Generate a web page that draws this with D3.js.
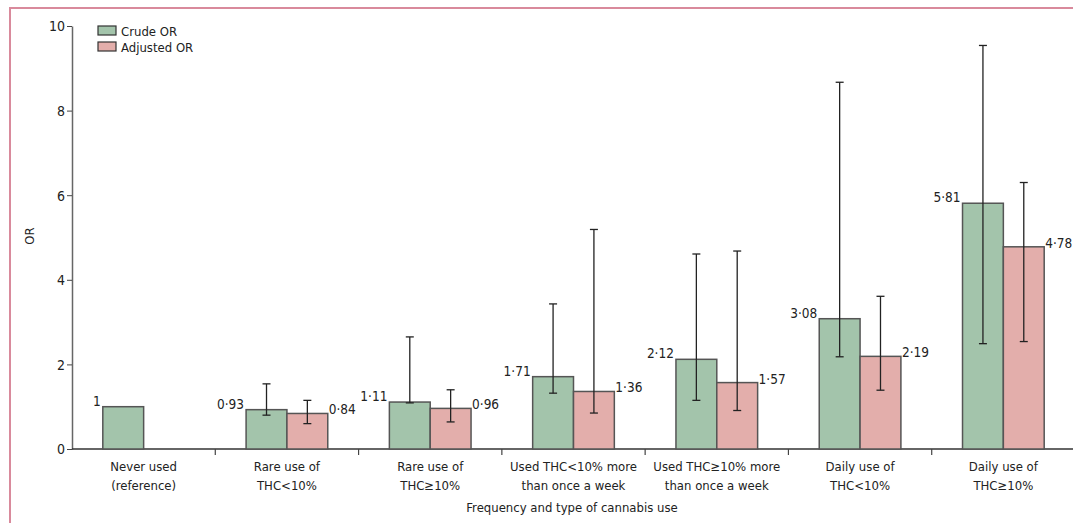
<!DOCTYPE html>
<html>
<head>
<meta charset="utf-8">
<script src="https://cdn.jsdelivr.net/npm/d3@7"></script>
<style>
  html, body { margin: 0; padding: 0; background: #fff; }
  svg { display: block; }
  text { font-family: "DejaVu Sans Condensed", "DejaVu Sans", sans-serif; fill: #222; }
</style>
</head>
<body>
<svg id="chart" width="1073" height="523"></svg>
<script>
// Odds ratios by frequency and type of cannabis use
const categories = [
  ["Never used", "(reference)"],
  ["Rare use of", "THC<10%"],
  ["Rare use of", "THC\u226510%"],
  ["Used THC<10% more", "than once a week"],
  ["Used THC\u226510% more", "than once a week"],
  ["Daily use of", "THC<10%"],
  ["Daily use of", "THC\u226510%"]
];
const crudeOR     = [1,    0.93, 1.11, 1.71, 2.12, 3.08, 5.81];
const crudeLow    = [null, 0.80, 1.09, 1.32, 1.15, 2.18, 2.49];
const crudeHigh   = [null, 1.54, 2.65, 3.43, 4.61, 8.67, 9.54];
const adjustedOR  = [null, 0.84, 0.96, 1.36, 1.57, 2.19, 4.78];
const adjustedLow = [null, 0.60, 0.64, 0.85, 0.91, 1.39, 2.54];
const adjustedHigh= [null, 1.15, 1.40, 5.19, 4.68, 3.61, 6.30];
const yTicks = [0, 2, 4, 6, 8, 10];
const seriesNames = ["Crude OR", "Adjusted OR"];

const colors = { crude: "#a3c4ab", adjusted: "#e3aeab", edge: "#555", frame: "#d98a9c" };
const fmt = v => String(v).replace(".", "\u00b7");

const svg = d3.select("#chart");

// frame
svg.append("path")
  .attr("d", "M10,523 V8 H1073")
  .attr("fill", "none")
  .attr("stroke", colors.frame)
  .attr("stroke-width", 2);

const x = d3.scaleBand().domain(d3.range(categories.length)).range([72, 1075]).padding(0);
const y = d3.scaleLinear().domain([0, 10]).range([449, 26]);
const barW = x.bandwidth() * 0.285;

// y axis
const yAxis = svg.append("g")
  .attr("transform", "translate(72,0)")
  .call(d3.axisLeft(y).tickValues(yTicks).tickSize(5).tickSizeOuter(0).tickFormat(d => d));
yAxis.attr("font-family", null).attr("font-size", null);
yAxis.select(".domain").attr("stroke", "#666").attr("stroke-width", 1.5);
yAxis.selectAll(".tick line").attr("stroke", "#444");
yAxis.selectAll(".tick text").attr("font-size", 14).attr("x", -7).attr("dy", "0.35em").attr("fill", "#222");

// x axis baseline with group boundary ticks
const xg = svg.append("g");
xg.append("line")
  .attr("x1", 72).attr("x2", 1073).attr("y1", y(0)).attr("y2", y(0))
  .attr("stroke", "#333").attr("stroke-width", 1.5);
xg.selectAll("line.tk")
  .data(d3.range(1, categories.length))
  .join("line")
  .attr("class", "tk")
  .attr("x1", i => x(i)).attr("x2", i => x(i))
  .attr("y1", y(0)).attr("y2", y(0) + 6)
  .attr("stroke", "#444").attr("stroke-width", 1.2);

// category labels
const catLab = svg.append("g").selectAll("text")
  .data(categories)
  .join("text")
  .attr("text-anchor", "middle")
  .attr("font-size", 13)
  .attr("x", (d, i) => x(i) + x.bandwidth() / 2)
  .attr("y", 471);
catLab.selectAll("tspan")
  .data(d => d)
  .join("tspan")
  .attr("x", function() { return this.parentNode.getAttribute("x"); })
  .attr("dy", (d, j) => j === 0 ? 0 : 18.5)
  .text(d => d);

// axis titles
svg.append("text")
  .attr("x", 572).attr("y", 512)
  .attr("text-anchor", "middle").attr("font-size", 13)
  .text("Frequency and type of cannabis use");
svg.append("text")
  .attr("transform", "translate(34,236) rotate(-90)")
  .attr("text-anchor", "middle").attr("font-size", 13)
  .text("OR");

const center = i => x(i) + x.bandwidth() / 2;

// bars
const bars = svg.append("g");
crudeOR.forEach((v, i) => {
  bars.append("rect")
    .attr("x", center(i) - barW).attr("y", y(v))
    .attr("width", barW).attr("height", y(0) - y(v))
    .attr("fill", colors.crude).attr("stroke", colors.edge).attr("stroke-width", 1.5);
});
adjustedOR.forEach((v, i) => {
  if (v == null) return;
  bars.append("rect")
    .attr("x", center(i)).attr("y", y(v))
    .attr("width", barW).attr("height", y(0) - y(v))
    .attr("fill", colors.adjusted).attr("stroke", colors.edge).attr("stroke-width", 1.5);
});

// confidence intervals
const ci = svg.append("g").attr("stroke", "#222").attr("stroke-width", 1.3);
function errorBar(cx, lo, hi) {
  ci.append("line").attr("x1", cx).attr("x2", cx).attr("y1", y(lo)).attr("y2", y(hi));
  [lo, hi].forEach(v => ci.append("line")
    .attr("x1", cx - 4).attr("x2", cx + 4).attr("y1", y(v)).attr("y2", y(v)));
}
crudeOR.forEach((v, i) => {
  if (crudeLow[i] != null) errorBar(center(i) - barW / 2, crudeLow[i], crudeHigh[i]);
});
adjustedOR.forEach((v, i) => {
  if (v != null) errorBar(center(i) + barW / 2, adjustedLow[i], adjustedHigh[i]);
});

// value labels
const labs = svg.append("g").attr("font-size", 13.5);
crudeOR.forEach((v, i) => {
  labs.append("text")
    .attr("x", center(i) - barW - 2).attr("y", y(v) - 1)
    .attr("text-anchor", "end").text(fmt(v));
});
adjustedOR.forEach((v, i) => {
  if (v == null) return;
  labs.append("text")
    .attr("x", center(i) + barW + 1).attr("y", y(v) + 1)
    .attr("text-anchor", "start").text(fmt(v));
});

// legend
const legend = svg.append("g");
[colors.crude, colors.adjusted].forEach((c, k) => {
  legend.append("rect")
    .attr("x", 98).attr("y", 26 + k * 16).attr("width", 18).attr("height", 9)
    .attr("fill", c).attr("stroke", "#333").attr("stroke-width", 1.2);
  legend.append("text")
    .attr("x", 121).attr("y", 35.5 + k * 16.5).attr("font-size", 13)
    .text(seriesNames[k]);
});
</script>
</body>
</html>
